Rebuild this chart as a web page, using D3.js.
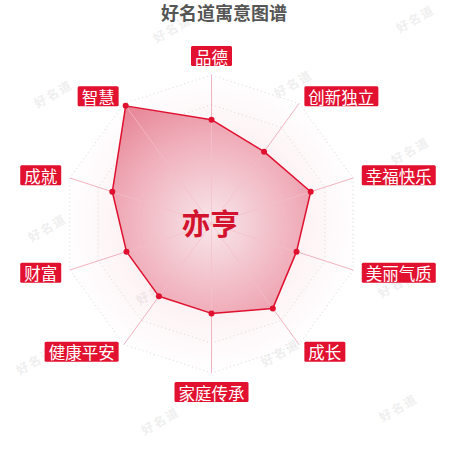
<!DOCTYPE html>
<html><head><meta charset="utf-8">
<script src="https://cdn.jsdelivr.net/npm/d3@7/dist/d3.min.js"></script>
<style>html,body{margin:0;padding:0;background:#fff;}svg{display:block;}</style>
</head><body>
<svg id="c" width="450" height="450"></svg>
<script>
const title = "好名道寓意图谱";
const centerName = "亦亨";
const indicators = ["品德","创新独立","幸福快乐","美丽气质","成长","家庭传承","健康平安","财富","成就","智慧"];
const values = [70,60,70,60,70,60,60,60,70,98];
const maxValue = 100;
const ringLevels = [20,40,60,80,100];
const watermarkText = "好名道";
const watermarkSpots = [[172,28],[415,18],[53,93],[293,83],[410,150],[47,227],[280,218],[155,290],[397,283],[35,360],[280,352],[160,420],[398,407]];

const svg = d3.select("#c");
const font = "'Noto Sans CJK SC','Noto Sans',sans-serif";
const cx = 211.5, cy = 224, R = 149;
const n = indicators.length;
const angle = d3.scaleLinear().domain([0, n]).range([0, 2*Math.PI]);
const rScale = d3.scaleLinear().domain([0, maxValue]).range([0, R]);
const pt = (i, r) => [cx + r*Math.sin(angle(i)), cy - r*Math.cos(angle(i))];

const defs = svg.append("defs");
const g1 = defs.append("radialGradient").attr("id","area").attr("gradientUnits","userSpaceOnUse")
  .attr("cx",cx).attr("cy",cy).attr("r",R);
[[0,"#f9e6ea"],[0.25,"#f4cdd5"],[0.6,"#efa9b6"],[1,"#e4798b"]].forEach(s=>g1.append("stop").attr("offset",s[0]).attr("stop-color",s[1]));
const g2 = defs.append("radialGradient").attr("id","bg").attr("gradientUnits","userSpaceOnUse")
  .attr("cx",cx).attr("cy",cy).attr("r",R);
[[0,"rgba(238,150,168,0.2)"],[0.6,"rgba(238,150,168,0.12)"],[1,"rgba(238,150,168,0)"]].forEach(s=>g2.append("stop").attr("offset",s[0]).attr("stop-color",s[1]));

// watermarks
svg.append("g").selectAll("text").data(watermarkSpots).join("text")
  .attr("transform", d=>`translate(${d[0]},${d[1]}) rotate(-30)`)
  .attr("text-anchor","middle").attr("dominant-baseline","central")
  .attr("font-family","'Noto Sans CJK SC',sans-serif").attr("font-size",12).attr("font-weight","bold")
  .attr("fill","#efefef").attr("letter-spacing",2).text(watermarkText);

// title
svg.append("text").attr("x",224).attr("y",20).attr("text-anchor","middle")
  .attr("font-family",font).attr("font-size",18).attr("font-weight","bold").attr("fill","#555").text(title);

const line = d3.line();
// background split area
svg.append("path").attr("d", line(d3.range(n).map(i=>pt(i,R)))+"Z").attr("fill","url(#bg)");
// rings
svg.append("g").selectAll("path").data(ringLevels).join("path")
  .attr("d", v=>line(d3.range(n).map(i=>pt(i,rScale(v))))+"Z")
  .attr("fill","none").attr("stroke","#d8d8d8").attr("stroke-width",1).attr("stroke-dasharray","1,3");
// axes
svg.append("g").selectAll("line").data(indicators).join("line")
  .attr("x1",cx).attr("y1",cy)
  .attr("x2",(d,i)=>pt(i,R)[0]).attr("y2",(d,i)=>pt(i,R)[1])
  .attr("stroke","#f2b3c0").attr("stroke-width",1);

// area
const pts = values.map((v,i)=>pt(i,rScale(v)));
svg.append("path").attr("d", line(pts)+"Z").attr("fill","url(#area)").attr("fill-opacity",0.95)
  .attr("stroke","#e0102f").attr("stroke-width",1.5).attr("stroke-linejoin","round");
// axes inside area faintly
svg.append("g").selectAll("line").data(indicators).join("line")
  .attr("x1",cx).attr("y1",cy)
  .attr("x2",(d,i)=>pt(i,rScale(values[i]))[0]).attr("y2",(d,i)=>pt(i,rScale(values[i]))[1])
  .attr("stroke","#f5c3cc").attr("stroke-width",1).attr("opacity",0.7);
svg.append("g").selectAll("circle").data(pts).join("circle")
  .attr("cx",d=>d[0]).attr("cy",d=>d[1]).attr("r",3).attr("fill","#e0102f");

// center name
svg.append("text").attr("x",cx-1).attr("y",cy-2).attr("text-anchor","middle").attr("dominant-baseline","central")
  .attr("font-family",font).attr("font-size",29).attr("font-weight","bold").attr("fill","#d3122d").text(centerName);

// indicator labels
const fs = 16.5, padX = 4, boxH = 20, gap = 9;
const lg = svg.append("g");
indicators.forEach((name,i)=>{
  const [ax, ay] = pt(i, R+gap);
  const s = Math.sin(angle(i)), c = Math.cos(angle(i));
  const w = name.length*fs + 2*padX;
  let x, y;
  if (Math.abs(s) < 0.1) { x = ax - w/2; y = c > 0 ? ay - boxH : ay; }
  else { x = s > 0 ? ax : ax - w; y = ay - boxH/2; }
  lg.append("rect").attr("x",x).attr("y",y).attr("width",w).attr("height",boxH).attr("rx",1.5).attr("fill","#e1112f");
  lg.append("text").attr("x",x+w/2).attr("y",y+boxH/2+0.5).attr("text-anchor","middle").attr("dominant-baseline","central")
    .attr("font-family",font).attr("font-size",fs).attr("fill","#fff").text(name);
});
</script>
</body></html>
